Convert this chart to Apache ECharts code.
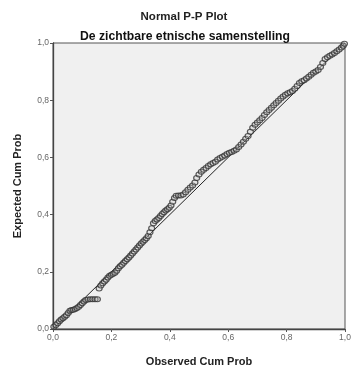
<!DOCTYPE html>
<html>
<head>
<meta charset="utf-8">
<script src="https://cdn.jsdelivr.net/npm/echarts@6/dist/echarts.min.js"></script>
<style>
  html, body { margin: 0; padding: 0; background: #fff; }
  #chart { width: 358px; height: 372px; }
</style>
</head>
<body>
<div id="chart"></div>
<script>
const titleText = 'Normal P-P Plot';
const subTitleText = 'De zichtbare etnische samenstelling';
const xName = 'Observed Cum Prob';
const yName = 'Expected Cum Prob';

// observed cumulative probability
const observed = [
  0.003, 0.010, 0.016, 0.022, 0.028, 0.034, 0.040, 0.046, 0.052, 0.058,
  0.064, 0.070, 0.076, 0.082, 0.088, 0.094, 0.100, 0.106, 0.112, 0.120,
  0.128, 0.136, 0.144, 0.152, 0.158, 0.164, 0.170, 0.176, 0.182, 0.188,
  0.194, 0.200, 0.206, 0.212, 0.218, 0.224, 0.230, 0.236, 0.242, 0.248,
  0.254, 0.260, 0.266, 0.272, 0.278, 0.284, 0.290, 0.296, 0.302, 0.308,
  0.314, 0.320, 0.326, 0.332, 0.338, 0.344, 0.350, 0.356, 0.362, 0.368,
  0.374, 0.380, 0.386, 0.392, 0.398, 0.404, 0.410, 0.416, 0.422, 0.430,
  0.438, 0.446, 0.454, 0.462, 0.470, 0.478, 0.486, 0.492, 0.500, 0.508,
  0.516, 0.524, 0.532, 0.540, 0.548, 0.556, 0.564, 0.572, 0.580, 0.588,
  0.596, 0.604, 0.612, 0.620, 0.628, 0.636, 0.644, 0.652, 0.660, 0.668,
  0.676, 0.684, 0.692, 0.700, 0.708, 0.716, 0.724, 0.732, 0.740, 0.748,
  0.756, 0.764, 0.772, 0.780, 0.788, 0.796, 0.804, 0.812, 0.820, 0.828,
  0.836, 0.844, 0.852, 0.860, 0.868, 0.876, 0.884, 0.892, 0.900, 0.908,
  0.916, 0.924, 0.932, 0.940, 0.948, 0.956, 0.964, 0.972, 0.980, 0.988,
  0.994, 0.998
];

// expected cumulative probability
const expected = [
  0.008, 0.014, 0.020, 0.027, 0.033, 0.038, 0.043, 0.048, 0.056, 0.064,
  0.066, 0.067, 0.070, 0.073, 0.078, 0.084, 0.090, 0.096, 0.101, 0.103,
  0.104, 0.104, 0.104, 0.104, 0.142, 0.152, 0.160, 0.166, 0.172, 0.180,
  0.186, 0.190, 0.193, 0.197, 0.204, 0.212, 0.219, 0.225, 0.232, 0.238,
  0.244, 0.250, 0.257, 0.264, 0.271, 0.278, 0.285, 0.292, 0.299, 0.305,
  0.311, 0.317, 0.325, 0.338, 0.352, 0.370, 0.378, 0.383, 0.388, 0.395,
  0.402, 0.408, 0.414, 0.419, 0.424, 0.432, 0.445, 0.458, 0.466, 0.467,
  0.467, 0.470, 0.478, 0.487, 0.495, 0.502, 0.512, 0.528, 0.540, 0.550,
  0.557, 0.563, 0.570, 0.576, 0.580, 0.585, 0.593, 0.598, 0.602, 0.607,
  0.612, 0.616, 0.619, 0.623, 0.628, 0.636, 0.645, 0.655, 0.665, 0.675,
  0.690, 0.704, 0.714, 0.722, 0.730, 0.738, 0.748, 0.758, 0.766, 0.774,
  0.782, 0.790, 0.798, 0.806, 0.813, 0.819, 0.824, 0.828, 0.832, 0.840,
  0.850, 0.860, 0.866, 0.870, 0.876, 0.882, 0.889, 0.896, 0.900, 0.906,
  0.916, 0.930, 0.944, 0.950, 0.955, 0.960, 0.965, 0.971, 0.977, 0.984,
  0.990, 0.997
];

const refLineX = [0, 1];
const refLineY = [0, 1];

const fmtTick = v => v.toFixed(1).replace('.', ',');

const chart = echarts.init(document.getElementById('chart'));

const axisCommon = {
  type: 'value',
  min: 0,
  max: 1,
  interval: 0.2,
  nameLocation: 'middle',
  nameTextStyle: { fontFamily: 'Liberation Sans', fontWeight: 'bold', fontSize: 11, color: '#222' },
  axisLine: { show: true, lineStyle: { color: '#444', width: 1.3 } },
  axisTick: { show: true, length: 3, lineStyle: { color: '#555' } },
  axisLabel: { formatter: fmtTick, color: '#666', fontSize: 8.5, fontFamily: 'Liberation Sans', margin: 4 },
  splitLine: { show: false }
};

chart.setOption({
  animation: false,
  backgroundColor: '#fff',
  title: [
    {
      text: titleText,
      left: 179,
      textAlign: 'center',
      top: 6,
      textStyle: { fontFamily: 'Liberation Sans', fontWeight: 'bold', fontSize: 11.5, color: '#222' }
    },
    {
      text: subTitleText,
      left: 180,
      textAlign: 'center',
      top: 26,
      textStyle: { fontFamily: 'Liberation Sans', fontWeight: 'bold', fontSize: 12.2, color: '#111' }
    }
  ],
  grid: {
    left: 53, right: 13, top: 43, bottom: 38,
    show: true,
    backgroundColor: '#f0f0f0',
    borderColor: '#555',
    borderWidth: 1
  },
  xAxis: Object.assign({}, axisCommon, { name: xName, nameGap: 27 }),
  yAxis: Object.assign({}, axisCommon, { name: yName, nameGap: 30 }),
  series: [
    {
      type: 'line',
      data: refLineX.map((x, i) => [x, refLineY[i]]),
      showSymbol: false,
      lineStyle: { color: '#222', width: 1 },
      z: 1
    },
    {
      type: 'scatter',
      data: observed.map((x, i) => [x, expected[i]]),
      symbol: 'circle',
      symbolSize: [6, 5],
      itemStyle: { color: 'rgba(200,200,200,0.4)', borderColor: '#333', borderWidth: 1.1 },
      z: 2
    }
  ]
});
</script>
</body>
</html>
